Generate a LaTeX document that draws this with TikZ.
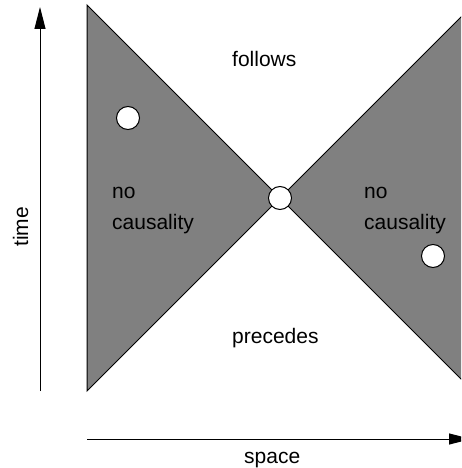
\documentclass[tikz,border=0pt]{standalone}
\usepackage{fontspec}
\setmainfont{Liberation Sans}
\usetikzlibrary{arrows.meta}

\tikzset{
  cone/.style={draw=black,fill=black!50,line width=1pt},
  event/.style={circle,draw=black,fill=white,line width=1pt,minimum size=23pt,inner sep=0pt},
  axis/.style={line width=1pt,-{Triangle[length=22pt,width=11pt]}},
  lbl/.style={font=\fontsize{21}{31}\selectfont,inner sep=0pt,anchor=base west,align=left}
}

\begin{document}
\begin{tikzpicture}[x=1pt,y=-1pt]
\clip (0,0) rectangle (461,468);
% light cone regions
\draw[cone] (87,5) -- (280,198) -- (87,391) -- cycle;
\draw[cone] (280,198) -- (480,-2) -- (480,398) -- cycle;
% axes
\coordinate (t0) at (40,391);
\coordinate (t1) at (40,7);
\coordinate (s0) at (87,439);
\coordinate (s1) at (471,439);
\draw[axis] (t0) -- (t1);
\draw[axis] (s0) -- (s1);
% events
\node[event] (here) at (280,198) {};
\node[event] (evA) at (128,118) {};
\node[event] (evB) at (433,256) {};
% labels
\node[lbl] (fol) at (232,67) {follows};
\node[lbl] (pre) at (232,343) {precedes};
\node[lbl] (ncL) at (112,229) {no\\causality};
\node[lbl] (ncR) at (364,229) {no\\causality};
\node[lbl] (spc) at (244,463) {space};
\node[lbl,rotate=90] (tim) at (28,247) {time};
\end{tikzpicture}
\end{document}
